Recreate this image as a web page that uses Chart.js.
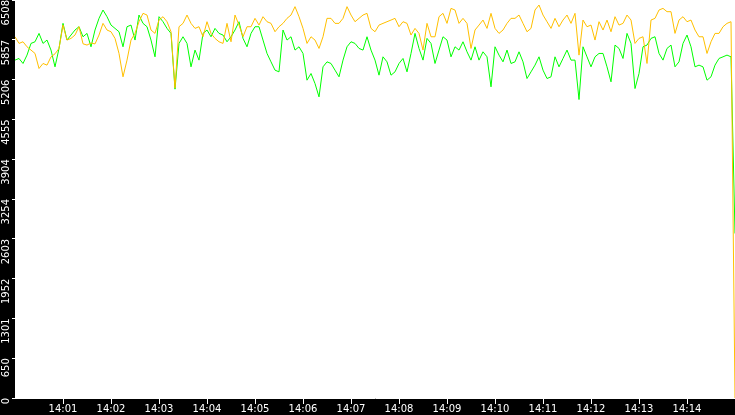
<!DOCTYPE html>
<html><head><meta charset="utf-8">
<script src="https://cdn.jsdelivr.net/npm/chart.js@4.4.0/dist/chart.umd.min.js"></script>
<style>html,body{margin:0;padding:0;background:#000;overflow:hidden}#wrap{width:735px;height:415px;position:relative}</style>
</head><body><div id="wrap"><canvas id="c" width="735" height="415"></canvas></div>
<script>
const startTime = '14:00:00';
const sampleSeconds = 5;
const xMaxSeconds = 900;
const yMax = 6508;

const orangeValues = [
5907,5798,5825,5743,5689,5634,5388,5470,5443,5579,5628,5716,6098,5853,5880,5935,6071,5792,5771,5805,5790,5935,6126,6017,5989,5880,5634,5252,5525,5853,
5962,6153,6290,6262,6017,5962,6180,6235,6153,5989,5070,6071,6126,6262,6126,6044,6071,5907,6153,5962,5880,5825,5798,6126,5825,6262,6098,5907,6071,6071,
6208,6098,6235,6153,6126,5989,6071,6126,6208,6262,6399,6235,6044,5798,5907,5853,5716,5907,6208,6208,6126,6126,6208,6399,6262,6153,6208,6262,6290,6044,
5989,6098,6126,6153,6180,6208,6071,6153,6126,5935,6044,5962,5689,6126,5907,5907,6235,6290,6126,6371,6344,6126,6208,6126,5716,6017,6098,6180,6044,6290,
6044,5962,6017,6126,6208,6208,6262,6126,5989,6044,6344,6426,6262,6153,6044,6208,6071,6180,6262,6126,6290,5607,6180,6071,6098,5853,6153,6017,6180,5989,
6235,6098,6126,6262,6180,5798,5880,5907,5470,6180,6208,6344,6371,6317,6317,5962,6180,6235,6153,6180,6017,5907,5907,5634,5825,5962,5962,6071,6126,6153,
0];

const greenValues = [
5525,5552,5470,5607,5798,5825,5962,5798,5853,5689,5415,5716,6126,5853,5935,6017,6071,5907,5962,5743,6017,6208,6344,6235,6098,6044,5989,5743,6071,6098,
5853,6262,6126,6071,5853,5579,6235,6153,6044,5962,5050,5798,5907,5798,5415,5689,5525,5962,6017,5907,6044,5962,5935,5825,5907,6017,6153,5880,5743,5962,
6071,6071,5853,5634,5497,5361,5333,6017,5853,5907,5689,5743,5634,5197,5306,5142,4924,5415,5497,5470,5361,5252,5525,5743,5825,5798,5716,5689,5907,5689,
5525,5279,5579,5497,5279,5333,5470,5552,5333,5634,5962,5716,5525,5880,5798,5470,5689,5907,5853,5579,5743,5689,5825,5661,5525,5743,5525,5661,5579,5088,
5743,5607,5497,5689,5470,5497,5661,5497,5224,5333,5443,5579,5361,5224,5252,5579,5415,5552,5689,5525,5525,4880,5743,5579,5415,5579,5634,5634,5415,5170,
5771,5716,5552,5962,5798,5060,5306,5743,5771,5880,5907,5634,5525,5716,5771,5415,5497,5798,5935,5743,5415,5443,5415,5197,5252,5443,5552,5579,5607,5579,
2690];

const xTickLabels = ['14:01','14:02','14:03','14:04','14:05','14:06','14:07','14:08','14:09','14:10','14:11','14:12','14:13','14:14'];
const yTickValues = [0, 650.8, 1301.6, 1952.4, 2603.2, 3254, 3904.8, 4555.6, 5206.4, 5857.2, 6508];
const yTickLabels = ['0','650','1301','1952','2603','3254','3904','4555','5206','5857','6508'];

function toSec(hms) {
  const p = hms.split(':').map(Number);
  return p[0]*3600 + p[1]*60 + (p[2] || 0);
}
const t0 = toSec(startTime);
const xTickSeconds = xTickLabels.map(l => toSec(l) - t0);

const toPoints = arr => arr.map((v, i) => ({x: i * sampleSeconds, y: v}));

const bgPlugin = {
  id: 'bg',
  beforeDraw(chart) {
    const {ctx, chartArea: a} = chart;
    ctx.save();
    ctx.fillStyle = '#000';
    ctx.fillRect(0, 0, chart.width, chart.height);
    ctx.fillStyle = '#fff';
    ctx.fillRect(a.left, a.top, a.right - a.left, a.bottom - a.top);
    ctx.restore();
  }
};

const font = {family: 'DejaVu Sans', size: 10, lineHeight: 1.1};

new Chart(document.getElementById('c'), {
  type: 'line',
  data: {
    datasets: [
      {label: 'orange', data: toPoints(orangeValues), borderColor: '#ffc000', borderWidth: 1, pointRadius: 0, tension: 0, fill: false},
      {label: 'green', data: toPoints(greenValues), borderColor: '#00ff00', borderWidth: 1, pointRadius: 0, tension: 0, fill: false}
    ]
  },
  options: {
    responsive: false,
    animation: false,
    devicePixelRatio: 1,
    layout: {padding: 0},
    plugins: {legend: {display: false}, tooltip: {enabled: false}, title: {display: false}},
    scales: {
      x: {
        type: 'linear', min: 0, max: xMaxSeconds,
        afterBuildTicks(s) { s.ticks = xTickSeconds.map(v => ({value: v})); },
        afterFit(s) { s.height = 17; s.paddingLeft = 0; s.paddingRight = 0; },
        grid: {drawOnChartArea: false, drawTicks: true, tickLength: 6, color: '#fff', tickColor: '#fff', tickWidth: 1},
        border: {display: true, color: '#fff', width: 1},
        ticks: {color: '#fff', font: font, padding: 0, maxRotation: 0, minRotation: 0, autoSkip: false,
          callback: (v, i) => xTickLabels[i]}
      },
      y: {
        type: 'linear', min: 0, max: yMax,
        afterBuildTicks(s) { s.ticks = yTickValues.map(v => ({value: v})); },
        afterFit(s) { s.width = 15; s.paddingTop = 0; s.paddingBottom = 0; },
        grid: {drawOnChartArea: false, drawTicks: true, tickLength: 3, color: '#fff', tickColor: '#fff', tickWidth: 1},
        border: {display: false},
        ticks: {color: '#fff', font: font, padding: 6, minRotation: 90, maxRotation: 90, autoSkip: false,
          callback: (v, i) => yTickLabels[i]}
      }
    }
  },
  plugins: [bgPlugin]
});
</script>
</body></html>
